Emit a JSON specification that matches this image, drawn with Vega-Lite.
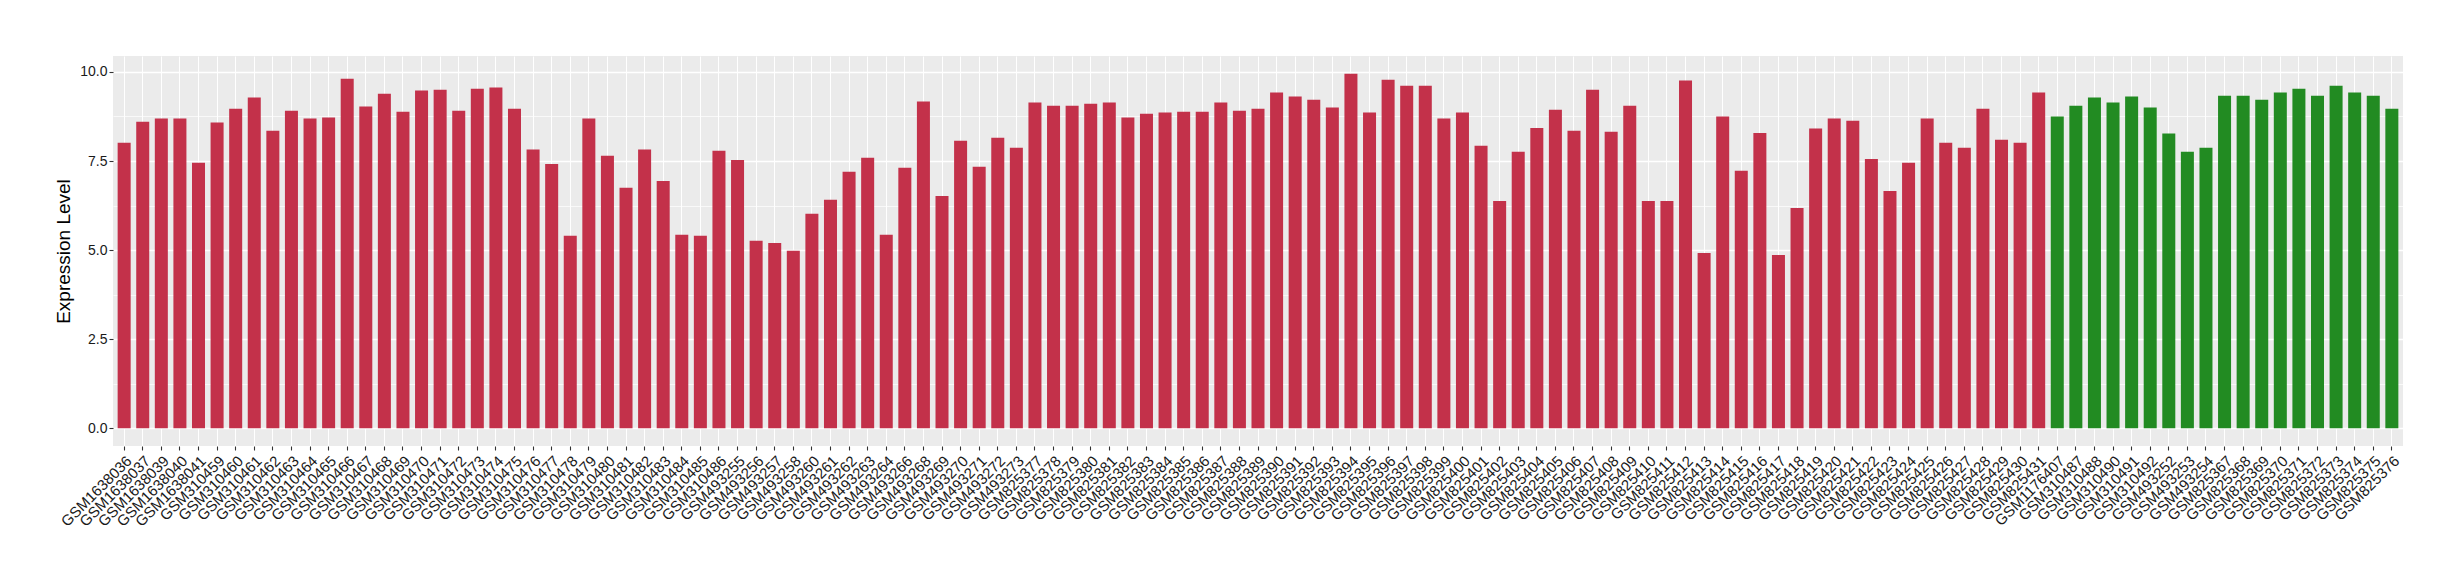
{
  "$schema": "https://vega.github.io/schema/vega-lite/v6.json",
  "autosize": {"type": "none"},
  "width": 2290,
  "height": 390,
  "padding": {"left": 113, "top": 56, "right": 57, "bottom": 134},
  "background": "white",
  "config": {
    "font": "Liberation Sans",
    "view": {"fill": "#EBEBEB", "stroke": null},
    "axis": {"domain": false, "gridColor": "white", "tickColor": "#333333", "tickSize": 4, "tickWidth": 1.1, "labelColor": "#1A1A1A", "titleColor": "#000000", "titleFontWeight": "normal", "labelFont": "Liberation Sans", "titleFont": "Liberation Sans"}
  },
  "data": {"values": [
    {"sample": "GSM1638036", "value": 8.01, "group": "A"},
    {"sample": "GSM1638037", "value": 8.60, "group": "A"},
    {"sample": "GSM1638039", "value": 8.69, "group": "A"},
    {"sample": "GSM1638040", "value": 8.69, "group": "A"},
    {"sample": "GSM1638041", "value": 7.45, "group": "A"},
    {"sample": "GSM310459", "value": 8.58, "group": "A"},
    {"sample": "GSM310460", "value": 8.97, "group": "A"},
    {"sample": "GSM310461", "value": 9.28, "group": "A"},
    {"sample": "GSM310462", "value": 8.35, "group": "A"},
    {"sample": "GSM310463", "value": 8.91, "group": "A"},
    {"sample": "GSM310464", "value": 8.69, "group": "A"},
    {"sample": "GSM310465", "value": 8.72, "group": "A"},
    {"sample": "GSM310466", "value": 9.81, "group": "A"},
    {"sample": "GSM310467", "value": 9.03, "group": "A"},
    {"sample": "GSM310468", "value": 9.39, "group": "A"},
    {"sample": "GSM310469", "value": 8.88, "group": "A"},
    {"sample": "GSM310470", "value": 9.48, "group": "A"},
    {"sample": "GSM310471", "value": 9.50, "group": "A"},
    {"sample": "GSM310472", "value": 8.91, "group": "A"},
    {"sample": "GSM310473", "value": 9.53, "group": "A"},
    {"sample": "GSM310474", "value": 9.56, "group": "A"},
    {"sample": "GSM310475", "value": 8.97, "group": "A"},
    {"sample": "GSM310476", "value": 7.82, "group": "A"},
    {"sample": "GSM310477", "value": 7.42, "group": "A"},
    {"sample": "GSM310478", "value": 5.40, "group": "A"},
    {"sample": "GSM310479", "value": 8.69, "group": "A"},
    {"sample": "GSM310480", "value": 7.65, "group": "A"},
    {"sample": "GSM310481", "value": 6.75, "group": "A"},
    {"sample": "GSM310482", "value": 7.82, "group": "A"},
    {"sample": "GSM310483", "value": 6.94, "group": "A"},
    {"sample": "GSM310484", "value": 5.43, "group": "A"},
    {"sample": "GSM310485", "value": 5.40, "group": "A"},
    {"sample": "GSM310486", "value": 7.79, "group": "A"},
    {"sample": "GSM493255", "value": 7.53, "group": "A"},
    {"sample": "GSM493256", "value": 5.26, "group": "A"},
    {"sample": "GSM493257", "value": 5.20, "group": "A"},
    {"sample": "GSM493258", "value": 4.98, "group": "A"},
    {"sample": "GSM493260", "value": 6.02, "group": "A"},
    {"sample": "GSM493261", "value": 6.41, "group": "A"},
    {"sample": "GSM493262", "value": 7.20, "group": "A"},
    {"sample": "GSM493263", "value": 7.59, "group": "A"},
    {"sample": "GSM493264", "value": 5.43, "group": "A"},
    {"sample": "GSM493266", "value": 7.31, "group": "A"},
    {"sample": "GSM493268", "value": 9.17, "group": "A"},
    {"sample": "GSM493269", "value": 6.52, "group": "A"},
    {"sample": "GSM493270", "value": 8.07, "group": "A"},
    {"sample": "GSM493271", "value": 7.34, "group": "A"},
    {"sample": "GSM493272", "value": 8.15, "group": "A"},
    {"sample": "GSM493273", "value": 7.87, "group": "A"},
    {"sample": "GSM825377", "value": 9.14, "group": "A"},
    {"sample": "GSM825378", "value": 9.05, "group": "A"},
    {"sample": "GSM825379", "value": 9.05, "group": "A"},
    {"sample": "GSM825380", "value": 9.11, "group": "A"},
    {"sample": "GSM825381", "value": 9.14, "group": "A"},
    {"sample": "GSM825382", "value": 8.72, "group": "A"},
    {"sample": "GSM825383", "value": 8.83, "group": "A"},
    {"sample": "GSM825384", "value": 8.86, "group": "A"},
    {"sample": "GSM825385", "value": 8.88, "group": "A"},
    {"sample": "GSM825386", "value": 8.88, "group": "A"},
    {"sample": "GSM825387", "value": 9.14, "group": "A"},
    {"sample": "GSM825388", "value": 8.91, "group": "A"},
    {"sample": "GSM825389", "value": 8.97, "group": "A"},
    {"sample": "GSM825390", "value": 9.42, "group": "A"},
    {"sample": "GSM825391", "value": 9.31, "group": "A"},
    {"sample": "GSM825392", "value": 9.22, "group": "A"},
    {"sample": "GSM825393", "value": 9.00, "group": "A"},
    {"sample": "GSM825394", "value": 9.95, "group": "A"},
    {"sample": "GSM825395", "value": 8.86, "group": "A"},
    {"sample": "GSM825396", "value": 9.78, "group": "A"},
    {"sample": "GSM825397", "value": 9.61, "group": "A"},
    {"sample": "GSM825398", "value": 9.61, "group": "A"},
    {"sample": "GSM825399", "value": 8.69, "group": "A"},
    {"sample": "GSM825400", "value": 8.86, "group": "A"},
    {"sample": "GSM825401", "value": 7.93, "group": "A"},
    {"sample": "GSM825402", "value": 6.38, "group": "A"},
    {"sample": "GSM825403", "value": 7.76, "group": "A"},
    {"sample": "GSM825404", "value": 8.43, "group": "A"},
    {"sample": "GSM825405", "value": 8.94, "group": "A"},
    {"sample": "GSM825406", "value": 8.35, "group": "A"},
    {"sample": "GSM825407", "value": 9.50, "group": "A"},
    {"sample": "GSM825408", "value": 8.32, "group": "A"},
    {"sample": "GSM825409", "value": 9.05, "group": "A"},
    {"sample": "GSM825410", "value": 6.38, "group": "A"},
    {"sample": "GSM825411", "value": 6.38, "group": "A"},
    {"sample": "GSM825412", "value": 9.76, "group": "A"},
    {"sample": "GSM825413", "value": 4.92, "group": "A"},
    {"sample": "GSM825414", "value": 8.75, "group": "A"},
    {"sample": "GSM825415", "value": 7.23, "group": "A"},
    {"sample": "GSM825416", "value": 8.29, "group": "A"},
    {"sample": "GSM825417", "value": 4.86, "group": "A"},
    {"sample": "GSM825418", "value": 6.18, "group": "A"},
    {"sample": "GSM825419", "value": 8.41, "group": "A"},
    {"sample": "GSM825420", "value": 8.69, "group": "A"},
    {"sample": "GSM825421", "value": 8.63, "group": "A"},
    {"sample": "GSM825422", "value": 7.56, "group": "A"},
    {"sample": "GSM825423", "value": 6.66, "group": "A"},
    {"sample": "GSM825424", "value": 7.45, "group": "A"},
    {"sample": "GSM825425", "value": 8.69, "group": "A"},
    {"sample": "GSM825426", "value": 8.01, "group": "A"},
    {"sample": "GSM825427", "value": 7.87, "group": "A"},
    {"sample": "GSM825428", "value": 8.97, "group": "A"},
    {"sample": "GSM825429", "value": 8.10, "group": "A"},
    {"sample": "GSM825430", "value": 8.01, "group": "A"},
    {"sample": "GSM825431", "value": 9.42, "group": "A"},
    {"sample": "GSM1176407", "value": 8.75, "group": "B"},
    {"sample": "GSM310487", "value": 9.05, "group": "B"},
    {"sample": "GSM310488", "value": 9.28, "group": "B"},
    {"sample": "GSM310490", "value": 9.14, "group": "B"},
    {"sample": "GSM310491", "value": 9.31, "group": "B"},
    {"sample": "GSM310492", "value": 9.00, "group": "B"},
    {"sample": "GSM493252", "value": 8.27, "group": "B"},
    {"sample": "GSM493253", "value": 7.76, "group": "B"},
    {"sample": "GSM493254", "value": 7.87, "group": "B"},
    {"sample": "GSM825367", "value": 9.33, "group": "B"},
    {"sample": "GSM825368", "value": 9.33, "group": "B"},
    {"sample": "GSM825369", "value": 9.22, "group": "B"},
    {"sample": "GSM825370", "value": 9.42, "group": "B"},
    {"sample": "GSM825371", "value": 9.53, "group": "B"},
    {"sample": "GSM825372", "value": 9.33, "group": "B"},
    {"sample": "GSM825373", "value": 9.61, "group": "B"},
    {"sample": "GSM825374", "value": 9.42, "group": "B"},
    {"sample": "GSM825375", "value": 9.33, "group": "B"},
    {"sample": "GSM825376", "value": 8.97, "group": "B"}
  ]},
  "mark": {"type": "bar"},
  "encoding": {
    "x": {
      "field": "sample", "type": "nominal", "sort": null,
      "scale": {"paddingInner": 0.3, "paddingOuter": 0.25},
      "axis": {"title": null, "labelAngle": -45, "labelAlign": "right", "labelBaseline": "top", "labelFontSize": 15, "labelPadding": 3, "grid": true, "gridWidth": 1, "bandPosition": 0.5, "labelOverlap": false, "labelBound": false}
    },
    "y": {
      "field": "value", "type": "quantitative",
      "scale": {"domain": [-0.4975, 10.4475], "nice": false, "zero": false},
      "axis": {
        "title": "Expression Level", "titleFontSize": 19, "titlePadding": 6,
        "values": [0, 1.25, 2.5, 3.75, 5, 6.25, 7.5, 8.75, 10],
        "labelExpr": "datum.value % 2.5 === 0 ? format(datum.value, '.1f') : ''",
        "labelFontSize": 14, "labelPadding": 2,
        "gridWidth": {"condition": {"test": "datum.value % 2.5 === 0", "value": 1.4}, "value": 0.7},
        "tickOpacity": {"condition": {"test": "datum.value % 2.5 === 0", "value": 1}, "value": 0}
      }
    },
    "color": {
      "field": "group", "type": "nominal",
      "scale": {"domain": ["A", "B"], "range": ["#C3314A", "#228B22"]},
      "legend": null
    }
  }
}
